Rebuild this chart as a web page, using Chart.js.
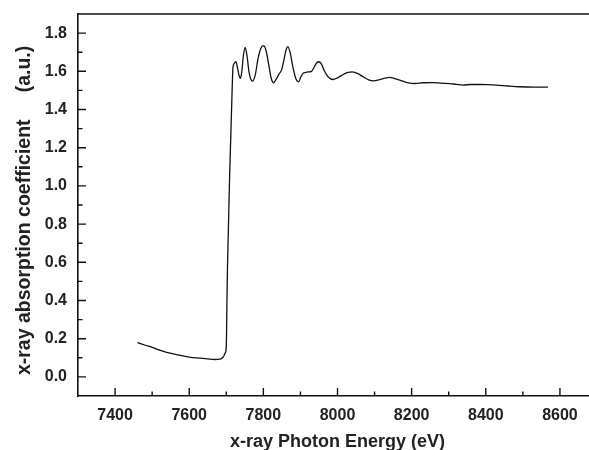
<!DOCTYPE html>
<html><head><meta charset="utf-8">
<script src="https://cdn.jsdelivr.net/npm/chart.js@4"></script>
<style>html,body{margin:0;padding:0;overflow:hidden;background:#fff}
#c{position:absolute;left:0;top:0}</style>
</head><body><canvas id="c" width="610" height="462" style="width:610px;height:462px"></canvas>
<script>
const energy = [7460,7480,7500,7520,7539,7560,7580,7600,7629,7650,7669,7683,7692,7697,7700,7701.5,7703,7706,7709,7712,7715,7718,7721,7726,7731,7735,7738,7742,7746,7751,7756,7761,7766,7771,7778,7786,7793,7800,7807,7814,7821,7828,7835,7842,7849,7855,7861,7866,7872,7880,7888,7895,7901,7907,7914,7921,7930,7938,7944,7950,7956,7965,7975,7988,8000,8015,8028,8040,8055,8070,8084,8096,8114,8128,8141,8155,8168,8188,8208,8230,8258,8280,8303,8320,8339,8360,8384,8405,8428,8460,8491,8530,8568];
const absorption = [0.180,0.167,0.155,0.140,0.128,0.119,0.111,0.104,0.098,0.094,0.091,0.093,0.105,0.125,0.160,0.350,0.550,0.800,1.050,1.250,1.450,1.620,1.640,1.650,1.610,1.575,1.563,1.600,1.680,1.725,1.680,1.600,1.560,1.549,1.580,1.670,1.720,1.734,1.710,1.640,1.565,1.540,1.560,1.585,1.606,1.655,1.710,1.729,1.700,1.620,1.560,1.545,1.570,1.589,1.594,1.597,1.600,1.625,1.645,1.650,1.640,1.600,1.570,1.557,1.566,1.583,1.594,1.597,1.588,1.570,1.555,1.550,1.556,1.564,1.568,1.561,1.554,1.541,1.536,1.540,1.541,1.538,1.536,1.532,1.528,1.531,1.531,1.530,1.528,1.523,1.519,1.517,1.517];
const xTicks = [7400,7600,7800,8000,8200,8400,8600];
const xMinorTicks = [7500,7700,7900,8100,8300,8500];
const yTicks = [0.0,0.2,0.4,0.6,0.8,1.0,1.2,1.4,1.6,1.8];
const yMinorTicks = [0.1,0.3,0.5,0.7,0.9,1.1,1.3,1.5,1.7];
const xTitle = 'x-ray Photon Energy (eV)';
const yTitle = 'x-ray absorption coefficient     (a.u.)  ';

const FONT = "'Liberation Sans', Arial, Helvetica, sans-serif";

const frameTicks = {
  id: 'frameTicks',
  afterDraw(chart) {
    const {ctx, chartArea: a, scales: {x, y}} = chart;
    ctx.save();
    ctx.strokeStyle = '#111';
    ctx.lineWidth = 1.6;
    ctx.beginPath();
    ctx.moveTo(a.left, a.top); ctx.lineTo(a.right, a.top);
    ctx.stroke();
    ctx.lineWidth = 1.4;
    ctx.beginPath();
    xTicks.forEach(v => { const p = x.getPixelForValue(v); ctx.moveTo(p, a.bottom); ctx.lineTo(p, a.bottom - 8); });
    xMinorTicks.forEach(v => { const p = x.getPixelForValue(v); ctx.moveTo(p, a.bottom); ctx.lineTo(p, a.bottom - 4.5); });
    yTicks.forEach(v => { const p = y.getPixelForValue(v); ctx.moveTo(a.left, p); ctx.lineTo(a.left + 8, p); });
    yMinorTicks.forEach(v => { const p = y.getPixelForValue(v); ctx.moveTo(a.left, p); ctx.lineTo(a.left + 4.5, p); });
    ctx.stroke();
    ctx.restore();
  }
};

new Chart(document.getElementById('c'), {
  type: 'line',
  data: {
    datasets: [{
      data: energy.map((e, i) => ({x: e, y: absorption[i]})),
      borderColor: '#111',
      borderWidth: 1.3,
      pointRadius: 0,
      cubicInterpolationMode: 'monotone',
      fill: false
    }]
  },
  options: {
    responsive: false,
    animation: false,
    devicePixelRatio: 1,
    layout: {padding: {top: 14, right: 13, left: 0, bottom: 0}},
    plugins: {legend: {display: false}, tooltip: {enabled: false}},
    scales: {
      x: {
        type: 'linear', min: 7300, max: 8700,
        afterBuildTicks: s => { s.ticks = xTicks.map(v => ({value: v})); },
        afterFit: s => { s.height = 66; s.paddingLeft = 0; s.paddingRight = 0; },
        grid: {display: false, drawTicks: false},
        border: {display: true, color: '#111', width: 1.6},
        ticks: {padding: 10, color: '#222', font: {family: FONT, size: 16, weight: 'bold'}, callback: v => String(v)},
        title: {display: true, text: xTitle, color: '#222', padding: {top: 0, bottom: 9}, font: {family: FONT, size: 18, weight: 'bold'}}
      },
      y: {
        min: -0.1, max: 1.9,
        afterBuildTicks: s => { s.ticks = yTicks.map(v => ({value: v})); },
        afterFit: s => { s.width = 78; s.paddingTop = 0; s.paddingBottom = 0; },
        grid: {display: false, drawTicks: false},
        border: {display: true, color: '#111', width: 1.6},
        ticks: {padding: 11, color: '#222', font: {family: FONT, size: 16, weight: 'bold'}, callback: v => Number(v).toFixed(1)},
        title: {display: true, text: yTitle, color: '#222', padding: {top: 13, bottom: 0}, font: {family: FONT, size: 19.5, weight: 'bold'}}
      }
    }
  },
  plugins: [frameTicks]
});
</script></body></html>
